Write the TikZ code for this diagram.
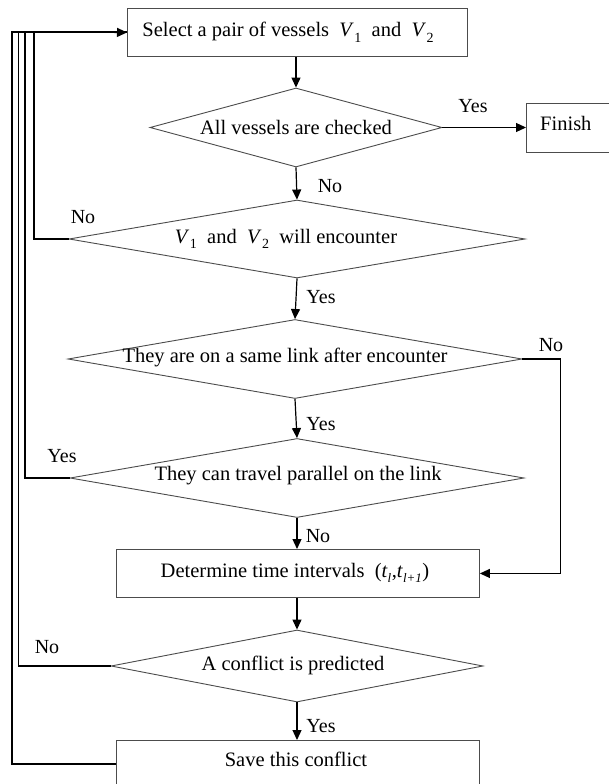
\documentclass[tikz,border=0pt]{standalone}
\usepackage{fontspec}
\setmainfont{Liberation Serif}
\usetikzlibrary{shapes.geometric,arrows.meta}

% italic vessel / time symbols with upright subscripts
\newcommand{\vsym}[2]{\textit{#1}\kern0.5pt\raisebox{-0.28em}{\fontsize{14}{14}\selectfont #2}}
\newcommand{\tsym}[2]{\textit{#1}\raisebox{-0.28em}{\fontsize{13}{13}\selectfont\textit{#2}}}

\tikzset{
  x=1pt, y=-1pt,
  every node/.style={font=\fontsize{20.5}{24}\selectfont},
  procbox/.style={draw=black!70, line width=0.9pt, inner sep=0pt, anchor=north west},
  decision/.style={draw=black!70, line width=0.9pt, diamond, inner sep=0pt},
  txt/.style={inner sep=0pt},
  flow/.style={draw=black, line width=1.2pt, -{Triangle[length=10pt,width=9pt]}},
  loopline/.style={draw=black, line width=1.1pt},
  tag/.style={inner sep=0pt, font=\fontsize{20}{22}\selectfont}
}

\begin{document}
\begin{tikzpicture}
\useasboundingbox (0,0) rectangle (609,784);
\fill[white] (0,0) rectangle (609,784);

% process boxes
\node[procbox, minimum width=340pt, minimum height=48pt] (b1) at (127,8) {};
\node[txt] at (288,32) {Select a pair of vessels\ \ \vsym{V}{1}\ \ and\ \ \vsym{V}{2}};

\node[procbox, minimum width=95pt, minimum height=49pt] (fin) at (526,103) {};
\node[txt, anchor=west] at (540,123) {Finish};

\node[procbox, minimum width=363pt, minimum height=48pt] (b2) at (116,549) {};
\node[txt] at (295,573) {Determine time intervals\ \ (\tsym{t}{l}\kern0.5pt,\tsym{t}{l+1}\kern0.5pt)};

\node[procbox, minimum width=363pt, minimum height=60pt] (b3) at (116,740) {};
\node[txt] at (296,759) {Save this conflict};

% decisions
\node[decision, minimum width=292pt, minimum height=79pt] (d1) at (296,127.5) {};
\node[txt] at (296,127) {All vessels are checked};

\node[decision, minimum width=456pt, minimum height=78pt] (d2) at (297,239) {};
\node[txt] at (286,239) {\vsym{V}{1}\ \ and\ \ \vsym{V}{2}\ \ will encounter};

\node[decision, minimum width=454pt, minimum height=79pt] (d3) at (295,359) {};
\node[txt] at (285,357) {They are on a same link after encounter};

\node[decision, minimum width=454pt, minimum height=79pt] (d4) at (297,478) {};
\node[txt] at (298,476) {They can travel parallel on the link};

\node[decision, minimum width=372pt, minimum height=72pt] (d5) at (297,666) {};
\node[txt] at (293,665) {A conflict is predicted};

% main flow
\draw[flow] (b1.south -| d1.north) -- (d1.north);
\draw[flow] (d1.east) -- (fin.west |- d1.east);
\draw[flow] (d1.south) -- (d2.north);
\draw[flow] (d2.south) -- (d3.north);
\draw[flow] (d3.south) -- (d4.north);
\draw[flow] (d4.south) -- (b2.north -| d4.south);
\draw[flow] (b2.south -| d5.north) -- (d5.north);
\draw[flow] (d5.south) -- (b3.north -| d5.south);

% "No" branch of the link test into the interval step
\draw[flow] (d3.east) -- ++(38,0) |- (b2.east);

% return lines to the selection step
\coordinate (ret) at (12,32);
\draw[loopline] (b3.west |- 0,764) -- (12,764) -- (12,32) -- (127,32);
\draw[loopline] (d5.west) -- (18.5,666) -- (18.5,32);
\draw[loopline] (d4.west) -- (25,478) -- (25,32);
\draw[loopline] (d2.west) -- (34,239) -- (34,32);
\draw[flow] (ret) -- (b1.west);

% branch labels
\node[tag] at (473,106) {Yes};
\node[tag] at (330,186) {No};
\node[tag] at (83,217) {No};
\node[tag] at (321,297) {Yes};
\node[tag] at (551,345) {No};
\node[tag] at (321,424) {Yes};
\node[tag] at (62,456) {Yes};
\node[tag] at (318,536) {No};
\node[tag] at (47,647) {No};
\node[tag] at (321,726) {Yes};
\end{tikzpicture}
\end{document}
